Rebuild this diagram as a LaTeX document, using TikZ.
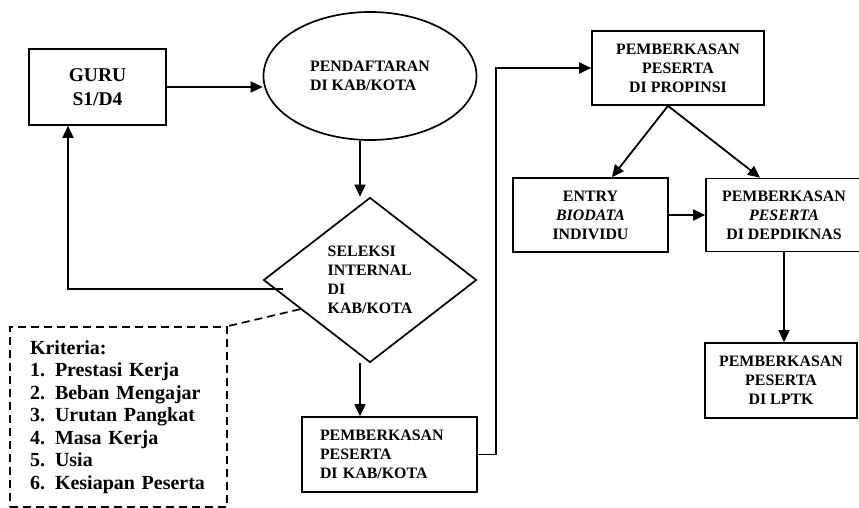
\documentclass[tikz,border=0pt]{standalone}
\usepackage{fontspec}
\setmainfont{Liberation Serif}
\usetikzlibrary{shapes.geometric, arrows.meta, calc, positioning}

\begin{document}
\begin{tikzpicture}[
  x=1pt, y=-1pt,
  >={Triangle[length=12pt,width=11pt]},
  box/.style={draw,line width=1.7pt,inner sep=0pt,align=center,font=\bfseries\fontsize{15.9}{19}\selectfont},
  oval/.style={box,ellipse,align=left},
  decide/.style={box,diamond,align=left},
  note/.style={draw,line width=1.7pt,dash pattern=on 8pt off 5pt,inner ysep=0pt,inner xsep=20pt,align=left,font=\bfseries\fontsize{20}{22.5}\selectfont},
  arr/.style={->,line width=1.8pt}
]
\useasboundingbox (0,0) rectangle (859,508);

% Kab/Kota level
\node[box, minimum width=137pt, minimum height=76pt, font=\bfseries\fontsize{19.5}{24}\selectfont] (GURU) at (97.5,87) {GURU\\S1/D4};
\node[oval, minimum width=213pt, minimum height=128pt] (PEND) at (370,76) {PENDAFTARAN\\DI KAB/KOTA};
\draw[arr] (GURU.east) -- (GURU.east -| PEND.west);

\node[decide, minimum width=213pt, minimum height=165pt] (SEL) at (370,280) {SELEKSI\\INTERNAL\\DI\\KAB/KOTA};
\draw[arr] ([xshift=-10pt]PEND.south) -- ([xshift=-10pt]SEL.north);

% back to guru
\draw[arr] ([xshift=20pt,yshift=-9pt]SEL.west) -| ([xshift=-29.5pt]GURU.south);

\node[box, minimum height=75pt, text width=139pt, inner xsep=18pt, align=left] (KAB) at (389.5,454.5) {PEMBERKASAN\\PESERTA\\DI KAB/KOTA};
\draw[arr] ([xshift=-10pt]SEL.south) -- ([xshift=-10pt]SEL.south |- KAB.north);

% Criteria box
\node[note, minimum height=180pt, text width=177pt] (KRIT) at (118.5,417) {Kriteria:\\
  \makebox[25pt][l]{1.}Prestasi Kerja\\
  \makebox[25pt][l]{2.}Beban Mengajar\\
  \makebox[25pt][l]{3.}Urutan Pangkat\\
  \makebox[25pt][l]{4.}Masa Kerja\\
  \makebox[25pt][l]{5.}Usia\\
  \makebox[25pt][l]{6.}Kesiapan Peserta};
\draw[line width=1.7pt, dash pattern=on 8pt off 5pt] ($(SEL.west)!0.35!(SEL.south)$) -- (KRIT.north east);

% Propinsi and beyond
\node[box, minimum width=172pt, minimum height=74pt] (PROP) at (678,68) {PEMBERKASAN\\PESERTA\\DI PROPINSI};
\draw[arr] (KAB.east) -- ++(18,0) |- (PROP.west);

\node[box, minimum width=155pt, minimum height=74pt] (ENTRY) at (590.5,215) {ENTRY\\\textit{BIODATA}\\INDIVIDU};
\node[box, minimum width=156pt, minimum height=73pt] (DEP) at (784,215) {PEMBERKASAN\\\textit{PESERTA}\\DI DEPDIKNAS};
\draw[arr] ([xshift=-10pt]PROP.south) -- ([xshift=21.5pt]ENTRY.north);
\draw[arr] ([xshift=-10pt]PROP.south) -- ([xshift=-24pt]DEP.north);
\draw[arr] (ENTRY.east) -- (ENTRY.east -| DEP.west);

\node[box, minimum width=152pt, minimum height=75pt] (LPTK) at (781,380.5) {PEMBERKASAN\\PESERTA\\DI LPTK};
\draw[arr] (DEP.south) -- (DEP.south |- LPTK.north);

\end{tikzpicture}
\end{document}
